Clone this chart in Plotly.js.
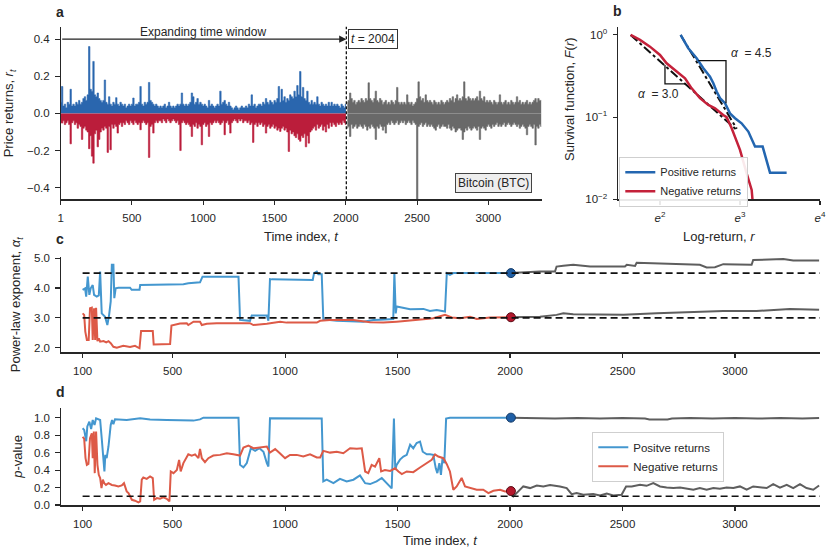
<!DOCTYPE html>
<html><head><meta charset="utf-8">
<script src="https://cdn.plot.ly/plotly-3.0.1.min.js"></script>
<style>html,body{margin:0;padding:0;background:#fff}#chart{width:831px;height:553px}</style>
</head><body><div id="chart"></div>
<script>
// ---------- Panel a: daily price returns (sampled every 10 steps from t = 1) ----------
const RET_T0 = 1, RET_DT = 10, CUT_T = 2004;
const retPos = [
0.06,0.145,0.04,0.05,0.03,0.06,0.05,0.13,0.04,0.05,
0.04,0.06,0.05,0.07,0.05,0.06,0.08,0.09,0.07,0.10,
0.36,0.13,0.12,0.28,0.10,0.09,0.11,0.08,0.07,0.06,
0.07,0.18,0.06,0.05,0.09,0.05,0.04,0.06,0.05,0.085,
0.05,0.04,0.06,0.05,0.04,0.05,0.03,0.04,0.05,0.04,
0.05,0.083,0.04,0.05,0.05,0.06,0.145,0.05,0.04,0.06,
0.05,0.06,0.167,0.07,0.06,0.05,0.04,0.05,0.04,0.03,
0.04,0.03,0.04,0.05,0.03,0.04,0.06,0.04,0.03,0.04,
0.03,0.04,0.05,0.04,0.05,0.11,0.05,0.04,0.05,0.04,
0.05,0.06,0.11,0.09,0.05,0.06,0.08,0.05,0.06,0.05,
0.04,0.05,0.04,0.03,0.07,0.04,0.05,0.04,0.03,0.04,
0.05,0.04,0.12,0.05,0.06,0.07,0.05,0.04,0.06,0.04,
0.03,0.02,0.03,0.04,0.03,0.02,0.03,0.04,0.03,0.03,
0.04,0.03,0.05,0.04,0.10,0.04,0.05,0.03,0.04,0.05,
0.05,0.04,0.06,0.05,0.08,0.06,0.05,0.07,0.06,0.05,
0.07,0.06,0.08,0.145,0.06,0.13,0.07,0.09,0.06,0.08,
0.07,0.10,0.09,0.08,0.12,0.09,0.15,0.10,0.226,0.09,
0.14,0.08,0.07,0.12,0.06,0.05,0.07,0.05,0.06,0.05,
0.09,0.05,0.04,0.06,0.05,0.04,0.05,0.04,0.06,0.04,
0.06,0.04,0.05,0.04,0.05,0.04,0.03,0.05,0.04,0.03,
0.05,0.06,0.07,0.11,0.08,0.06,0.07,0.05,0.06,0.07,
0.06,0.08,0.07,0.06,0.08,0.07,0.165,0.08,0.07,0.06,
0.08,0.12,0.07,0.06,0.08,0.07,0.05,0.06,0.07,0.05,
0.06,0.05,0.07,0.06,0.05,0.07,0.14,0.06,0.05,0.06,
0.05,0.06,0.05,0.10,0.06,0.05,0.06,0.04,0.05,0.06,
0.08,0.17,0.09,0.07,0.08,0.06,0.10,0.07,0.06,0.07,
0.06,0.05,0.07,0.06,0.05,0.06,0.05,0.07,0.06,0.05,
0.06,0.07,0.06,0.08,0.07,0.09,0.06,0.08,0.10,0.07,
0.08,0.07,0.09,0.17,0.08,0.07,0.09,0.08,0.07,0.08,
0.07,0.08,0.09,0.07,0.12,0.08,0.07,0.09,0.06,0.07,
0.06,0.07,0.06,0.05,0.07,0.06,0.05,0.06,0.10,0.06,
0.05,0.06,0.07,0.05,0.06,0.05,0.07,0.06,0.05,0.06,
0.09,0.06,0.07,0.05,0.06,0.05,0.06,0.07,0.05,0.06,
0.05,0.06,0.07,0.08,0.06,0.08,0.07,0.07];
const retNeg = [
-0.05,-0.052,-0.04,-0.06,-0.05,-0.04,-0.06,-0.164,-0.05,-0.04,
-0.06,-0.05,-0.08,-0.06,-0.07,-0.14,-0.08,-0.07,-0.09,-0.10,
-0.19,-0.12,-0.23,-0.268,-0.11,-0.09,-0.18,-0.14,-0.10,-0.08,
-0.09,-0.07,-0.08,-0.21,-0.07,-0.196,-0.06,-0.08,-0.06,-0.07,
-0.106,-0.06,-0.05,-0.07,-0.05,-0.06,-0.04,-0.05,-0.06,-0.04,
-0.05,-0.06,-0.04,-0.05,-0.06,-0.05,-0.088,-0.05,-0.04,-0.05,
-0.06,-0.05,-0.237,-0.07,-0.06,-0.106,-0.05,-0.04,-0.05,-0.04,
-0.04,-0.05,-0.03,-0.04,-0.05,-0.03,-0.04,-0.05,-0.04,-0.03,
-0.04,-0.05,-0.04,-0.06,-0.20,-0.05,-0.04,-0.05,-0.06,-0.05,
-0.06,-0.07,-0.124,-0.06,-0.07,-0.05,-0.08,-0.06,-0.07,-0.169,
-0.06,-0.05,-0.07,-0.06,-0.124,-0.05,-0.06,-0.05,-0.04,-0.05,
-0.04,-0.05,-0.06,-0.05,-0.04,-0.115,-0.05,-0.04,-0.06,-0.106,
-0.05,-0.04,-0.03,-0.04,-0.05,-0.03,-0.04,-0.03,-0.05,-0.04,
-0.04,-0.05,-0.04,-0.06,-0.05,-0.156,-0.06,-0.05,-0.07,-0.05,
-0.06,-0.05,-0.07,-0.06,-0.106,-0.07,-0.06,-0.08,-0.07,-0.06,
-0.08,-0.07,-0.09,-0.08,-0.097,-0.08,-0.07,-0.09,-0.08,-0.10,
-0.205,-0.09,-0.11,-0.10,-0.12,-0.13,-0.11,-0.14,-0.15,-0.12,
-0.13,-0.11,-0.18,-0.12,-0.16,-0.10,-0.09,-0.08,-0.07,-0.09,
-0.06,-0.08,-0.07,-0.06,-0.09,-0.07,-0.10,-0.06,-0.08,-0.05,
-0.07,-0.05,-0.06,-0.07,-0.05,-0.06,-0.05,-0.06,-0.04,-0.05,
-0.06,-0.08,-0.07,-0.124,-0.06,-0.08,-0.07,-0.06,-0.08,-0.07,
-0.06,-0.07,-0.08,-0.06,-0.07,-0.09,-0.07,-0.08,-0.06,-0.07,
-0.08,-0.14,-0.07,-0.08,-0.06,-0.07,-0.09,-0.07,-0.106,-0.06,
-0.05,-0.06,-0.04,-0.05,-0.06,-0.05,-0.04,-0.06,-0.05,-0.04,
-0.05,-0.04,-0.06,-0.05,-0.04,-0.05,-0.06,-0.04,-0.05,-0.06,
-0.50,-0.07,-0.06,-0.05,-0.07,-0.06,-0.05,-0.07,-0.06,-0.07,
-0.06,-0.07,-0.08,-0.09,-0.07,-0.06,-0.08,-0.07,-0.06,-0.07,
-0.07,-0.08,-0.06,-0.08,-0.09,-0.07,-0.08,-0.10,-0.09,-0.08,
-0.08,-0.09,-0.14,-0.10,-0.08,-0.09,-0.07,-0.08,-0.09,-0.08,
-0.07,-0.08,-0.09,-0.07,-0.14,-0.08,-0.07,-0.08,-0.09,-0.07,
-0.06,-0.07,-0.08,-0.06,-0.07,-0.06,-0.05,-0.07,-0.06,-0.07,
-0.06,-0.05,-0.07,-0.06,-0.05,-0.06,-0.07,-0.06,-0.05,-0.06,
-0.07,-0.06,-0.08,-0.07,-0.06,-0.07,-0.08,-0.115,-0.07,-0.06,
-0.07,-0.08,-0.06,-0.17,-0.07,-0.08,-0.06,-0.07];

// ---------- Panel b: survival functions (log-return as ln r) ----------
const survPosLnR = [2.258,2.354,2.458,2.542,2.625,2.667,2.708,2.75,2.813,2.875,2.938,3.02,3.104,3.188,3.283,3.375,3.583];
const survPosF   = [1.0,0.689,0.52,0.393,0.311,0.258,0.205,0.17,0.148,0.111,0.097,0.084,0.0667,0.0438,0.0438,0.0211,0.0211];
const survNegLnR = [1.633,1.75,1.875,2.0,2.083,2.188,2.313,2.396,2.5,2.604,2.688,2.79,2.833,2.896,3.0,3.083,3.146,3.158];
const survNegF   = [1.0,0.87,0.72,0.571,0.452,0.375,0.297,0.224,0.17,0.141,0.128,0.106,0.1,0.073,0.040,0.0207,0.013,0.0095];
const fitPosLnR = [2.258,2.96], fitPosF = [1.0,0.072];
const fitNegLnR = [1.633,2.958], fitNegF = [1.0,0.0698];
const triPosLnR = [2.479,2.825,2.825], triPosF = [0.487,0.487,0.1476];
const triNegLnR = [2.0625,2.0625,2.3125], triNegF = [0.431,0.2535,0.2535];
const bTickLn = [2,3,4];
const bTickText = ['<i>e</i><sup>2</sup>','<i>e</i><sup>3</sup>','<i>e</i><sup>4</sup>'];

// ---------- Panel c: power-law exponent ----------
const alphaPosT = [100,111,116,123,130,136,145,151,163,172,178,185,200,210,218,225,230,237,241,247,259,311,318,353,356,548,570,622,633,793,800,844,852,919,926,933,941,1022,1030,1123,1129,1141,1148,1163,1170,1230,1348,1393,1422,1481,1486,1492,1496,1526,1556,1615,1644,1674,1704,1711,1719,1733,1748,2004];
const alphaPos  = [3.94,3.99,3.71,4.38,3.77,3.99,4.10,3.77,3.71,3.75,4.55,3.15,3.04,2.76,3.10,3.55,4.78,4.78,3.66,3.99,4.01,4.01,3.94,3.94,4.10,4.13,4.16,4.19,4.38,4.38,2.93,2.90,3.08,3.08,2.90,4.30,4.29,4.29,4.27,4.27,4.50,4.55,4.46,4.46,2.95,2.90,2.87,2.93,2.94,2.96,4.50,3.15,3.38,3.34,3.29,3.30,3.23,3.26,3.23,3.21,4.50,4.44,4.50,4.50];
const alphaNegT = [100,107,112,119,127,133,141,145,151,156,160,166,172,178,193,205,215,225,237,252,281,311,333,353,360,412,416,452,489,495,511,533,563,570,593,622,630,652,696,770,844,859,919,978,1007,1141,1156,1200,1304,1378,1437,1496,1556,1615,1659,1689,1711,1741,1778,1822,1852,1911,1970,2004];
const alphaNeg  = [3.15,3.10,2.54,2.26,2.26,3.32,3.34,2.26,3.32,2.26,3.34,2.22,2.31,2.20,2.22,2.18,2.22,2.15,2.03,2.00,2.06,2.02,2.06,1.98,2.56,2.56,2.11,2.11,2.12,2.74,2.78,2.81,2.82,2.76,2.87,2.87,2.76,2.80,2.82,2.82,2.82,2.76,2.80,2.87,2.84,2.84,2.90,2.93,2.93,2.85,2.84,2.87,2.90,2.95,2.99,3.06,3.10,3.01,2.99,3.04,2.96,3.01,3.02,3.02];
const alphaPosLaterT = [2004,2133,2200,2207,2237,2281,2356,2511,2519,2556,2563,2652,2785,2844,2874,2911,2948,3074,3081,3215,3259,3374];
const alphaPosLater  = [4.50,4.55,4.55,4.72,4.75,4.78,4.72,4.72,4.78,4.74,4.85,4.83,4.81,4.78,4.69,4.70,4.80,4.78,4.94,4.97,4.92,4.92];
const alphaNegLaterT = [2004,2133,2207,2237,2281,2356,2504,2652,2800,2948,3096,3244,3374];
const alphaNegLater  = [3.02,3.04,3.10,3.15,3.12,3.12,3.10,3.15,3.19,3.23,3.23,3.30,3.27];
const alphaRefPos = 4.5, alphaRefNeg = 3.0;

// ---------- Panel d: p-values ----------
const pPosT = [100,107,116,121,130,138,145,153,160,170,178,185,193,197,201,207,215,225,231,237,244,296,356,400,474,548,593,622,637,793,800,815,830,848,867,886,904,919,926,933,1163,1170,1185,1215,1244,1274,1304,1333,1356,1378,1407,1430,1452,1474,1484,1490,1496,1511,1526,1541,1556,1570,1585,1600,1612,1630,1644,1659,1670,1677,1686,1693,1700,1708,1716,1733,2004];
const pPos  = [0.878,0.86,0.73,0.90,0.954,0.87,0.973,0.916,0.992,0.985,0.973,0.764,0.422,0.384,0.574,0.536,0.67,0.916,0.973,0.924,0.981,0.973,0.992,0.98,0.973,0.973,0.966,0.98,1.0,1.0,0.46,0.43,0.48,0.65,0.62,0.65,0.61,0.48,0.44,0.992,0.99,0.27,0.29,0.25,0.30,0.27,0.29,0.34,0.25,0.24,0.27,0.31,0.25,0.19,0.99,0.40,0.46,0.52,0.555,0.574,0.69,0.65,0.71,0.726,0.61,0.58,0.58,0.574,0.42,0.365,0.48,0.346,0.536,0.48,0.99,1.0,1.0];
const pNegT = [100,107,113,119,126,133,141,145,150,154,160,166,172,178,184,190,196,204,215,230,244,259,274,284,296,304,319,333,348,356,363,370,385,400,412,418,430,444,459,474,486,492,504,519,529,536,548,560,570,585,600,615,622,630,644,659,681,711,741,770,800,815,837,859,889,919,933,956,978,1000,1022,1052,1081,1111,1141,1156,1170,1200,1230,1259,1289,1319,1341,1356,1370,1385,1400,1419,1427,1444,1467,1489,1504,1519,1541,1570,1600,1630,1652,1667,1681,1704,1719,1733,1748,1763,1785,1800,1822,1852,1881,1904,1926,1956,1978,2004];
const pNeg  = [0.78,0.76,0.536,0.46,0.47,0.764,0.82,0.536,0.84,0.365,0.84,0.46,0.346,0.31,0.194,0.29,0.25,0.23,0.25,0.23,0.224,0.213,0.224,0.25,0.156,0.137,0.06,0.05,0.03,0.042,0.29,0.315,0.30,0.327,0.308,0.06,0.08,0.072,0.087,0.072,0.042,0.384,0.365,0.40,0.517,0.384,0.48,0.536,0.58,0.566,0.58,0.536,0.643,0.536,0.49,0.536,0.566,0.574,0.593,0.58,0.566,0.658,0.68,0.65,0.658,0.67,0.60,0.64,0.59,0.536,0.574,0.574,0.555,0.58,0.544,0.544,0.62,0.60,0.61,0.593,0.65,0.643,0.65,0.384,0.365,0.46,0.44,0.536,0.384,0.40,0.39,0.42,0.384,0.354,0.384,0.376,0.43,0.48,0.517,0.58,0.555,0.536,0.468,0.384,0.175,0.213,0.31,0.213,0.194,0.175,0.175,0.137,0.163,0.175,0.156,0.16];
const pPosLaterT = [2004,2100,2200,2300,2400,2500,2600,2620,2700,2720,2800,2900,3000,3100,3200,3300,3374];
const pPosLater  = [1.0,0.995,0.99,0.995,0.99,0.995,0.99,0.98,0.98,0.99,0.995,0.99,0.995,0.99,0.995,0.99,0.995];
const pNegLaterT = [2004,2015,2037,2059,2089,2119,2148,2178,2222,2252,2274,2296,2326,2370,2400,2430,2459,2496,2516,2541,2578,2607,2637,2667,2696,2726,2756,2785,2815,2844,2874,2904,2933,2963,2993,3022,3052,3081,3111,3141,3170,3200,3230,3259,3289,3318,3348,3374];
const pNegLater  = [0.16,0.10,0.156,0.213,0.194,0.224,0.213,0.23,0.213,0.194,0.125,0.137,0.118,0.125,0.11,0.133,0.11,0.118,0.213,0.213,0.232,0.22,0.25,0.213,0.20,0.194,0.20,0.186,0.175,0.194,0.175,0.194,0.186,0.20,0.194,0.213,0.175,0.213,0.20,0.194,0.24,0.20,0.232,0.194,0.24,0.194,0.175,0.224];
const pRef = 0.1;
const tTicks = [100,500,1000,1500,2000,2500,3000];

// ---------- build ----------
const W = 831, H = 553;
const px = v => v / W, py = v => 1 - v / H;
const FONT = 'Liberation Sans, Arial, Helvetica, sans-serif';
const INK = '#262626';
const retT = retPos.map((_, i) => RET_T0 + RET_DT * i);
const toR = a => a.map(v => Math.exp(v));
const sel = (vals, early) => {
  const xs = [], ys = [];
  vals.forEach((v, i) => { if ((retT[i] < CUT_T) === early) { xs.push(retT[i]); ys.push(v); } });
  return {xs, ys};
};

const BLUE_A = '#2a66ae', RED_A = '#bb1d3b', GRAY_A = '#696969';
const BLUE_B = '#2366b0', RED_B = '#c4213a';
const BLUE_C = '#4497cf', RED_C = '#dd5a47', GRAY_C = '#5e5e5e';

// returns drawn as a stepped area filled to zero
const retTrace = (vals, early, c) => { const s = sel(vals, early);
  return {type:'scatter', mode:'lines', x:s.xs, y:s.ys, line:{color:c, width:0.6, shape:'hvh'}, fill:'tozeroy', fillcolor:c,
    xaxis:'x', yaxis:'y', showlegend:false, hoverinfo:'skip'}; };
const ln = (x, y, c, w, ax, extra) => Object.assign({type:'scatter', mode:'lines', x, y, line:{color:c, width:w}, xaxis:'x'+ax, yaxis:'y'+ax, showlegend:false, hoverinfo:'skip'}, extra||{});

const traces = [
  retTrace(retPos, true, BLUE_A),
  retTrace(retNeg, true, RED_A),
  retTrace(retPos, false, GRAY_A),
  retTrace(retNeg, false, GRAY_A),
  // panel b
  ln(toR(fitPosLnR), fitPosF, '#111', 2, 2, {line:{color:'#111', width:2, dash:'dashdot'}}),
  ln(toR(fitNegLnR), fitNegF, '#111', 2, 2, {line:{color:'#111', width:2, dash:'dashdot'}}),
  ln(toR(survPosLnR), survPosF, BLUE_B, 2.5, 2, {name:'Positive returns', showlegend:true, legend:'legend'}),
  ln(toR(survNegLnR), survNegF, RED_B, 2.5, 2, {name:'Negative returns', showlegend:true, legend:'legend'}),
  ln(toR(triPosLnR), triPosF, '#111', 1.3, 2),
  ln(toR(triNegLnR), triNegF, '#111', 1.3, 2),
  // panel c
  ln(alphaPosT, alphaPos, BLUE_C, 2, 3),
  ln(alphaNegT, alphaNeg, RED_C, 2, 3),
  ln(alphaPosLaterT, alphaPosLater, GRAY_C, 2, 3),
  ln(alphaNegLaterT, alphaNegLater, GRAY_C, 2, 3),
  // panel d
  ln(pPosT, pPos, BLUE_C, 2, 4, {name:'Positve returns', showlegend:true, legend:'legend2'}),
  ln(pNegT, pNeg, RED_C, 2, 4, {name:'Negative returns', showlegend:true, legend:'legend2'}),
  ln(pPosLaterT, pPosLater, GRAY_C, 2, 4),
  ln(pNegLaterT, pNegLater, GRAY_C, 2, 4)
];
// window-end markers
const dot = (x, y, fill, edge, ax) => ({type:'scatter', mode:'markers', x:[x], y:[y], xaxis:'x'+ax, yaxis:'y'+ax,
  marker:{size:9, color:fill, line:{color:edge, width:1}}, showlegend:false, hoverinfo:'skip'});
traces.push(dot(alphaPosT[alphaPosT.length-1], alphaPos[alphaPos.length-1], '#1f5fa6', '#143a66', 3));
traces.push(dot(alphaNegT[alphaNegT.length-1], alphaNeg[alphaNeg.length-1], '#b3182d', '#5a0c15', 3));
traces.push(dot(pPosT[pPosT.length-1], pPos[pPos.length-1], '#1f5fa6', '#143a66', 4));
traces.push(dot(pNegT[pNegT.length-1], pNeg[pNeg.length-1], '#b3182d', '#5a0c15', 4));

const axBase = {showline:true, linecolor:INK, linewidth:1.2, ticks:'outside', ticklen:4.5, tickwidth:1.1, tickcolor:INK,
  showgrid:false, zeroline:false, tickfont:{family:FONT, size:11.5, color:INK}, ticklabelstandoff:3, fixedrange:true};
const ax = o => Object.assign({}, axBase, o);
const dX = [px(60.7), px(541.7)], dXb = [px(618.3), px(820)], dXcd = [px(61), px(820)];
const dYab = [py(199.3), py(26.7)], dYc = [py(352.3), py(256.7)], dYd = [py(505.3), py(408.3)];

const ann = (text, x, y, o) => Object.assign({text, x, y, xref:'paper', yref:'paper', showarrow:false,
  font:{family:FONT, size:13, color:INK}, xanchor:'center', yanchor:'middle'}, o||{});
const L10 = Math.LOG10E;

const layout = {
  width:W, height:H, margin:{l:0, r:0, t:0, b:0}, paper_bgcolor:'#fff', plot_bgcolor:'rgba(0,0,0,0)',
  showlegend:true, font:{family:FONT, color:INK},
  xaxis: ax({domain:dX, anchor:'y', range:[1, 3374], tickvals:[1,500,1000,1500,2000,2500,3000]}),
  yaxis: ax({domain:dYab, anchor:'x', range:[-0.4625, 0.467], tickvals:[-0.4,-0.2,0,0.2,0.4], tickformat:'.1f'}),
  xaxis2: ax({domain:dXb, anchor:'y2', type:'log', range:[1.479*L10, 4*L10], tickvals:bTickLn.map(v=>Math.exp(v)), ticktext:bTickText}),
  yaxis2: ax({domain:dYab, anchor:'x2', type:'log', range:[-2, 0.1], tickvals:[1,0.1,0.01], ticktext:['10<sup>0</sup>','10<sup>−1</sup>','10<sup>−2</sup>']}),
  xaxis3: ax({domain:dXcd, anchor:'y3', range:[4, 3378], tickvals:tTicks}),
  yaxis3: ax({domain:dYc, anchor:'x3', range:[1.845, 5.05], tickvals:[2,3,4,5], tickformat:'.1f'}),
  xaxis4: ax({domain:dXcd, anchor:'y4', range:[4, 3378], tickvals:tTicks}),
  yaxis4: ax({domain:dYd, anchor:'x4', range:[-0.003, 1.107], tickvals:[0,0.2,0.4,0.6,0.8,1.0], tickformat:'.1f'}),
  legend: {x:px(619.3), y:py(156.7), xanchor:'left', yanchor:'top', bgcolor:'rgba(255,255,255,0.9)', bordercolor:'#cfcfcf', borderwidth:1,
    font:{family:FONT, size:11, color:INK}, itemwidth:30, tracegroupgap:0},
  legend2: {x:px(592.3), y:py(431.7), xanchor:'left', yanchor:'top', bgcolor:'rgba(255,255,255,0.9)', bordercolor:'#cfcfcf', borderwidth:1,
    font:{family:FONT, size:11.5, color:INK}, itemwidth:30, tracegroupgap:0},
  shapes: [
    {type:'line', xref:'x', yref:'y domain', x0:CUT_T, x1:CUT_T, y0:0, y1:1, line:{color:'#111', width:1.3, dash:'3px,2px'}},
    {type:'line', xref:'x3', yref:'y3', x0:100, x1:3378, y0:alphaRefPos, y1:alphaRefPos, line:{color:'#111', width:1.6, dash:'7px,4px'}},
    {type:'line', xref:'x3', yref:'y3', x0:100, x1:3378, y0:alphaRefNeg, y1:alphaRefNeg, line:{color:'#111', width:1.6, dash:'7px,4px'}},
    {type:'line', xref:'x4', yref:'y4', x0:100, x1:3378, y0:pRef, y1:pRef, line:{color:'#111', width:1.6, dash:'7px,4px'}}
  ],
  annotations: [
    // panel letters
    ann('<b>a</b>', px(60), py(11.7), {font:{family:FONT, size:14, color:INK}}),
    ann('<b>b</b>', px(617.3), py(11), {font:{family:FONT, size:14, color:INK}}),
    ann('<b>c</b>', px(60), py(239), {font:{family:FONT, size:14, color:INK}}),
    ann('<b>d</b>', px(60), py(391.7), {font:{family:FONT, size:14, color:INK}}),
    // axis titles
    ann('Time index, <i>t</i>', px(301), py(236.7)),
    ann('Log-return, <i>r</i>', px(719), py(236.7)),
    ann('Time index, <i>t</i>', px(440.5), py(540)),
    ann('Price returns, <i>r</i><sub><i>t</i></sub>', px(9.3), py(113), {textangle:-90}),
    ann('Survival function, <i>F</i>(<i>r</i>)', px(570), py(99), {textangle:-90}),
    ann('Power-law exponent, <i>α</i><sub><i>t</i></sub>', px(16.7), py(304.5), {textangle:-90}),
    ann('<i>p</i>-value', px(16.7), py(457), {textangle:-90}),
    // panel a notes
    {text:'', x:CUT_T, y:0.4, ax:RET_T0, ay:0.4, xref:'x', yref:'y', axref:'x', ayref:'y', showarrow:true,
      arrowhead:2, arrowsize:1.3, arrowwidth:1.1, arrowcolor:'#222', standoff:0},
    {text:'Expanding time window', x:1000, y:0.441, xref:'x', yref:'y', showarrow:false, font:{family:FONT, size:12, color:INK}},
    {text:'<i>t</i> = 2004', x:2014, y:0.4, xref:'x', yref:'y', xanchor:'left', yanchor:'middle', showarrow:false,
      font:{family:FONT, size:12, color:INK}, bgcolor:'#fff', bordercolor:'#333', borderwidth:1, borderpad:2},
    {text:'Bitcoin (BTC)', x:3034, y:-0.3736, xref:'x', yref:'y', xanchor:'center', yanchor:'middle', showarrow:false,
      font:{family:FONT, size:12, color:INK}, bgcolor:'#eeeeee', bordercolor:'#444', borderwidth:1, borderpad:2},
    // panel b slopes
    {text:'<i>α</i>  = 4.5', x:3.146*L10, y:Math.log10(0.599), xref:'x2', yref:'y2', showarrow:false, font:{family:FONT, size:12, color:INK}},
    {text:'<i>α</i>  = 3.0', x:1.979*L10, y:Math.log10(0.190), xref:'x2', yref:'y2', showarrow:false, font:{family:FONT, size:12, color:INK}}
  ]
};
Plotly.newPlot('chart', traces, layout, {staticPlot:true, displayModeBar:false});
</script></body></html>
